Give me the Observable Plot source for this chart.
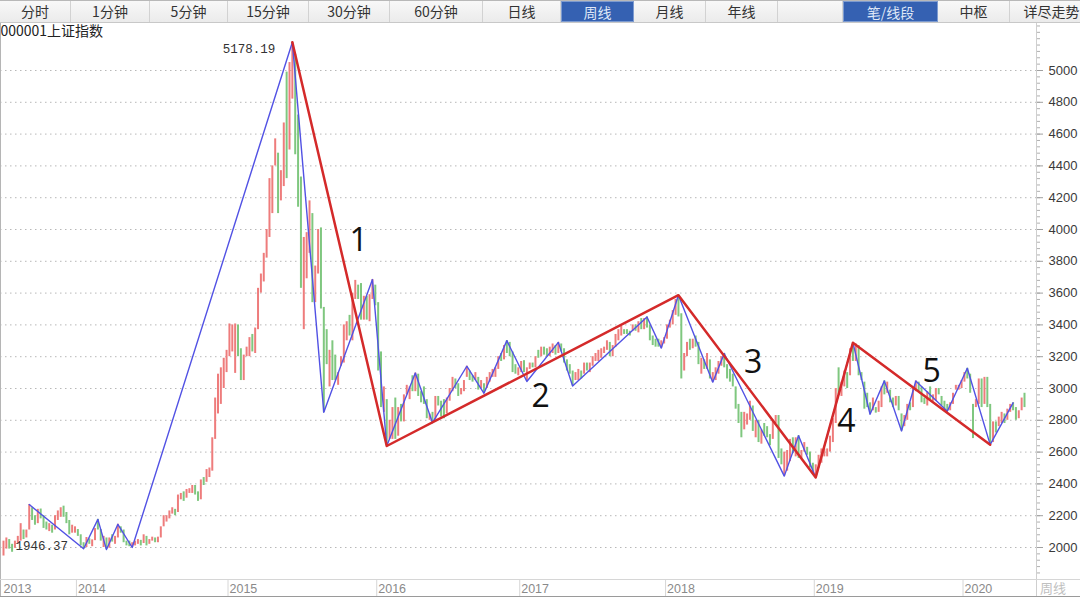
<!DOCTYPE html>
<html><head><meta charset="utf-8">
<script src="https://cdn.jsdelivr.net/npm/d3@7"></script>
<script src="https://cdn.jsdelivr.net/npm/@observablehq/plot@0.6"></script>
<style>
body{margin:0;background:#fff;font-family:"Noto Sans CJK SC","Noto Sans",sans-serif;}
#wrap{position:relative;width:1080px;height:597px;overflow:hidden;background:#fff;}
#bar{position:absolute;left:0;top:0;width:1080px;height:23px;background:#efefef;border-top:1px solid #b8b8b8;border-bottom:1px solid #c8c8c8;box-sizing:border-box;}
.btn{position:absolute;top:0;height:21px;line-height:21px;text-align:center;font-size:14px;color:#333;border-right:1px solid #d2d2d2;box-sizing:border-box;background:linear-gradient(#f8f8f8,#ebebeb);white-space:nowrap;overflow:hidden;}
.btn.sel{background:#3561b2;color:#dfe7f7;border:1px solid #7d9bd0;}
#chart{position:absolute;left:0;top:23px;}
.ln{position:absolute;}
</style></head><body><div id="wrap"><div id="bar"></div><div id="chart"></div></div>
<script>
// ---------- data: weekly bars (low / high / r=up g=down) ----------
const years = ["2013","2014","2015","2016","2017","2018","2019","2020"];

const lo2013 = [1946.37,1990,1990,1970,1995,2020,2040,2050,2060,2110,2170,2140,2150,2180,2120,2110,2100,2090,2110,2170,2190,2190,2150,2080,2090,2090];
const hi2013 = [2040,2060,2050,2020,2040,2070,2150,2110,2110,2270,2250,2200,2240,2242,2200,2160,2150,2140,2200,2230,2250,2260,2220,2170,2140,2130];
const dir2013 = "rrggrrrgrrggrgggrgrrrgggrr";

const lo2014 = [2070,2010,1992,2000,2020,2005,2043,2110,2040,2000,1987,1995,2034,2020,2060,2090,2030,2010,2005,2000,2010,2020,2010,2025,2010,2020,2040,2030,2030,2060,2130,2160,2180,2210,2200,2220,2300,2290,2310,2340,2340,2330,2290,2300,2390,2410,2440,2480,2680,2840,2900,3000,3100];
const hi2014 = [2113,2080,2030,2063,2055,2048,2119,2177,2113,2070,2060,2060,2080,2070,2146,2130,2110,2040,2040,2030,2040,2050,2045,2080,2070,2050,2065,2060,2065,2130,2200,2200,2230,2250,2240,2330,2340,2350,2365,2370,2390,2390,2350,2425,2440,2490,2500,2690,2940,3090,3130,3190,3240];
const dir2014 = "gggrgrrgg"+"rgrg"+"rrgg"+"ggrrr"+"grgr"+"rgrr"+"rrrrg"+"rrgrr"+"rggr"+"grrr"+"rrrrr";

const lo2015 = [3200,3230,3095,3200,3050,3050,3200,3200,3230,3220,3370,3600,3670,3820,3950,4100,4400,4100,4180,4270,4320,4500,4820,4470,4140,3630,3370,3690,3850,3540,3540,3720,3500,2850,3150,3010,3050,3050,3020,3140,3160,3300,3330,3300,3560,3560,3430,3430,3430,3420,3560,3520];
const hi2015 = [3406,3400,3406,3400,3250,3210,3260,3320,3340,3380,3630,3720,3850,4000,4320,4400,4570,4480,4370,4670,4990,5050,5178.19,5100,4720,4330,3950,3980,4180,4100,3770,4000,4010,3510,3370,3240,3300,3210,3100,3200,3400,3420,3460,3600,3680,3650,3660,3580,3580,3590,3685,3650];
const dir2015 = "rrrg"+"grrr"+"grrr"+"rrrrr"+"grrg"+"rrgg"+"grrrg"+"rrgg"+"grggr"+"rrrg"+"rrgg"+"rgrrg";

const lo2016 = [3110,2880,2850,2638.3,2680,2680,2680,2700,2790,2790,2960,2930,2980,2980,2950,2910,2900,2810,2800,2785,2800,2890,2820,2810,2840,2920,2980,3000,2950,2960,2980,3070,3050,3040,3050,2990,3000,2970,3000,3040,3070,3070,3120,3170,3180,3220,3200,3100,3090,3080];
const hi2016 = [3540,3230,3010,2930,2800,2880,2940,2880,2900,2960,3020,3010,3080,3097,3090,2980,3010,2930,2840,2850,2950,2950,2920,2930,2940,3000,3070,3060,3030,3000,3050,3140,3110,3080,3100,3070,3050,3030,3070,3100,3120,3130,3200,3220,3270,3301,3290,3230,3150,3130];
const dir2016 = "ggrg"+"rrg"+"rgrr"+"rgrgg"+"ggrg"+"rggg"+"rrrgg"+"rrrg"+"grgrg"+"rrr"+"rrgr"+"ggggr";

const lo2017 = [3100,3100,3044,3120,3130,3130,3190,3200,3210,3200,3200,3220,3210,3220,3230,3160,3110,3090,3016,3050,3050,3060,3090,3110,3100,3140,3170,3170,3190,3220,3240,3200,3200,3260,3300,3330,3340,3340,3330,3360,3360,3350,3370,3370,3380,3300,3270,3260,3260,3254,3280];
const hi2017 = [3170,3175,3130,3160,3160,3200,3240,3260,3260,3250,3260,3280,3270,3290,3280,3250,3180,3150,3110,3100,3120,3110,3160,3160,3160,3200,3220,3240,3250,3260,3300,3290,3270,3340,3370,3390,3370,3370,3360,3400,3400,3420,3440,3440,3450,3400,3330,3310,3310,3300,3320];
const dir2017 = "rgrr"+"grgr"+"ggrrg"+"rggg"+"ggrr"+"grgrr"+"rrrr"+"rgrr"+"rrggg"+"rgr"+"grgg"+"gggrr";

const lo2018 = [3310,3380,3400,3460,3450,3060,3110,3200,3240,3250,3260,3150,3090,3120,3120,3060,3040,3050,3090,3140,3130,3060,3040,3010,2870,2780,2690,2740,2770,2800,2730,2690,2660,2650,2700,2690,2640,2680,2780,2560,2520,2449,2480,2540,2590,2570,2560,2560,2600,2580,2500,2460];
const hi2018 = [3400,3430,3490,3560,3587,3470,3220,3290,3310,3310,3330,3290,3190,3180,3220,3180,3100,3130,3170,3200,3220,3150,3120,3090,3010,2900,2850,2850,2840,2920,2890,2800,2800,2740,2780,2760,2710,2800,2830,2830,2620,2600,2610,2680,2690,2690,2703,2610,2660,2630,2600,2530];
const dir2018 = "rrrrg"+"grr"+"grggr"+"grgr"+"rrrg"+"ggggg"+"grrr"+"grgrg"+"ggrr"+"ggrr"+"rgrgr"+"rggg";

const lo2019 = [2440.91,2500,2530,2570,2570,2600,2660,2780,2960,2950,3010,3000,3080,3170,3170,3080,3050,2870,2880,2838,2860,2845,2850,2880,2960,2970,2910,2880,2890,2860,2733,2760,2800,2860,2880,2980,2980,2910,2900,2890,2930,2920,2920,2960,2890,2860,2857,2860,2900,2990,2990,3000];
const hi2019 = [2520,2580,2620,2620,2620,2700,2810,3000,3130,3040,3110,3100,3250,3288,3280,3270,3100,3040,2970,2910,2940,2880,2920,3010,3048,3040,2990,2940,2950,2950,2840,2830,2900,2910,3000,3047,3040,3010,2940,2980,3010,2960,3000,3000,2950,2920,2900,2910,2970,3020,3020,3050];
const dir2019 = "rrrrr"+"rrr"+"grrg"+"rgrgg"+"gggr"+"grrg"+"rggrg"+"grrg"+"rrggg"+"rgrr"+"gggg"+"rrrrr";

const lo2020 = [3040,3060,2970,2685,2880,2900,2880,2900,2880,2646.8,2660,2720,2760,2780,2780,2800,2850,2860,2800,2810,2860,2880];
const hi2020 = [3100,3127,3090,2900,2930,3060,3060,3070,3070,2900,2790,2790,2820,2850,2840,2870,2900,2910,2880,2860,2940,2970];
const dir2020 = "rggg"+"rrgrgg"+"rgrrgrrgg"+"rrg";

// 笔 (strokes, blue) and 线段 (segments, red): bar index + price
const penIdx = [9,28,33,36,40,45,101,112,129,134,144,150,162,168,176,183,194,199,225,230,236,248,252,273,278,284,297,303,308,314,319,330,337,345,353];
const penVal = [2270,1992,2177,1987,2146,2000,5178.19,2850,3685,2638.3,3097,2785,3140,2970,3301,3044,3290,3016,3450,3254,3587,3040,3220,2449,2703,2440.91,3288,2838,3048,2733,3047,2857,3127,2646.8,2910];
const segIdx = [101,134,236,284,297,345];
const segVal = [5178.19,2638.3,3587,2440.91,3288,2646.8];
const segNames = ["1","2","3","4","5"];

const yTicks = [2000,2200,2400,2600,2800,3000,3200,3400,3600,3800,4000,4200,4400,4600,4800,5000];
const title = "000001上证指数";

// ---------- build table ----------
const lows = [lo2013,lo2014,lo2015,lo2016,lo2017,lo2018,lo2019,lo2020];
const highs = [hi2013,hi2014,hi2015,hi2016,hi2017,hi2018,hi2019,hi2020];
const dirs = [dir2013,dir2014,dir2015,dir2016,dir2017,dir2018,dir2019,dir2020];
const bars = [];
const yearMarks = [];
lows.forEach((arr, y) => {
  yearMarks.push({label: years[y], pos: bars.length - 0.5});
  arr.forEach((l, k) => bars.push({i: bars.length, lo: l, hi: highs[y][k], dir: dirs[y][k] || "r"}));
});
const N = bars.length;
const pen = penIdx.map((i, k) => ({i, v: penVal[k]}));
const seg = segIdx.map((i, k) => ({i, v: segVal[k]}));
const peak = bars.reduce((a, b) => b.hi > a.hi ? b : a);
const trough = bars.reduce((a, b) => b.lo < a.lo ? b : a);
const minorTicks = d3.range(1840, 5281, 40);
const labelOffsets = [[19,-3],[8,26],[6,-24],[12,12],[10,-22]];
const segLabelMarks = segNames.map((name, k) => Plot.text([{i: (seg[k].i + seg[k+1].i) / 2, v: (seg[k].v + seg[k+1].v) / 2, name}], {
  x: "i", y: "v", text: "name", dx: labelOffsets[k][0], dy: labelOffsets[k][1],
  fontSize: 32, fill: "#111", fontFamily: "'Open Sans','Noto Sans',sans-serif"
}));

// ---------- toolbar ----------
const tb = [["分时",0,71],["1分钟",71,150],["5分钟",150,228],["15分钟",228,309],["30分钟",309,390],["60分钟",390,483],["日线",483,561],["周线",561,634,1],["月线",634,706],["年线",706,778],["",778,843],["笔/线段",843,938,1],["中枢",938,1010],["详尽走势",1010,1094]];
const bar = document.getElementById("bar");
tb.forEach(([t, a, b, s]) => {
  const d = document.createElement("div");
  d.className = "btn" + (s ? " sel" : "");
  d.style.left = a + "px"; d.style.width = (b - a) + "px";
  d.textContent = t; bar.appendChild(d);
});

// ---------- chart ----------
const chart = Plot.plot({
  width: 1080, height: 574,
  marginLeft: 0, marginRight: 44, marginTop: 0, marginBottom: 18,
  style: {background: "transparent", fontFamily: "'Liberation Sans', Arial, sans-serif", overflow: "visible"},
  x: {type: "linear", domain: [0, N - 1], range: [3, 1024], axis: null},
  y: {type: "linear", domain: [1800, 5280], range: [555.8, 2.48], axis: null},
  color: {domain: ["r", "g"], range: ["#ee7c7c", "#7fc77f"]},
  marks: [
    Plot.gridY(yTicks, {stroke: "#9a9a9a", strokeOpacity: 0.7, strokeDasharray: "1.5,3.5"}),
    Plot.axisY(minorTicks, {anchor: "right", tickSize: 3, stroke: "#b0b0b0", tickFormat: () => "", label: null}),
    Plot.axisY(yTicks, {anchor: "right", tickSize: 6, tickPadding: 6, stroke: "#a0a0a0", fill: "#3a3a3a", fontSize: 13, tickFormat: d => String(d), label: null}),
    Plot.axisX(yearMarks.slice(1).map(d => d.pos), {anchor: "bottom", tickSize: 17, stroke: "#d6d6d6", tickFormat: () => "", label: null}),
    Plot.text(yearMarks, {x: "pos", text: "label", frameAnchor: "bottom", lineAnchor: "middle", dy: 9, dx: 1.5, textAnchor: "start", fill: "#8a8a8a", fontSize: 12.5}),
    Plot.ruleX(bars, {x: "i", y1: "lo", y2: "hi", stroke: "dir", strokeWidth: 2}),
    Plot.line(pen, {x: "i", y: "v", stroke: "#5252e4", strokeWidth: 1.4}),
    Plot.line(seg, {x: "i", y: "v", stroke: "#d42a2a", strokeWidth: 2.5}),
    ...segLabelMarks,
    Plot.text([peak], {x: "i", y: "hi", text: d => d.hi.toFixed(2), textAnchor: "end", dx: -17, dy: 7, fontFamily: "'Liberation Mono', monospace", fontSize: 12.5, fill: "#333"}),
    Plot.text([trough], {x: "i", y: "lo", text: d => d.lo.toFixed(2), textAnchor: "start", dx: 12, dy: -10, fontFamily: "'Liberation Mono', monospace", fontSize: 12.5, fill: "#333"}),
    Plot.text([title], {frameAnchor: "top-left", lineAnchor: "top", dy: 3, textAnchor: "start", fontSize: 14, fill: "#222", fontFamily: "'Noto Sans CJK SC', sans-serif"})
  ]
});
document.getElementById("chart").appendChild(chart);

// chrome lines
const wrap = document.getElementById("wrap");
[[0,23,1,574,"#b5b5b5"],[1036,23,1,574,"#cfcfcf"],[0,596,1080,1,"#9a9a9a"],[1036,579,44,1,"#d6d6d6"],[0,579,1036,1,"#d6d6d6"]].forEach(([l,t,w,h,c]) => {
  const d = document.createElement("div"); d.className = "ln";
  Object.assign(d.style, {left: l+"px", top: t+"px", width: w+"px", height: h+"px", background: c});
  wrap.appendChild(d);
});
const wk = document.createElement("div");
Object.assign(wk.style, {position: "absolute", left: "1040px", top: "580px", fontSize: "13px", color: "#c0c0c0", lineHeight: "16px"});
wk.textContent = "周线"; wrap.appendChild(wk);
</script></body></html>
